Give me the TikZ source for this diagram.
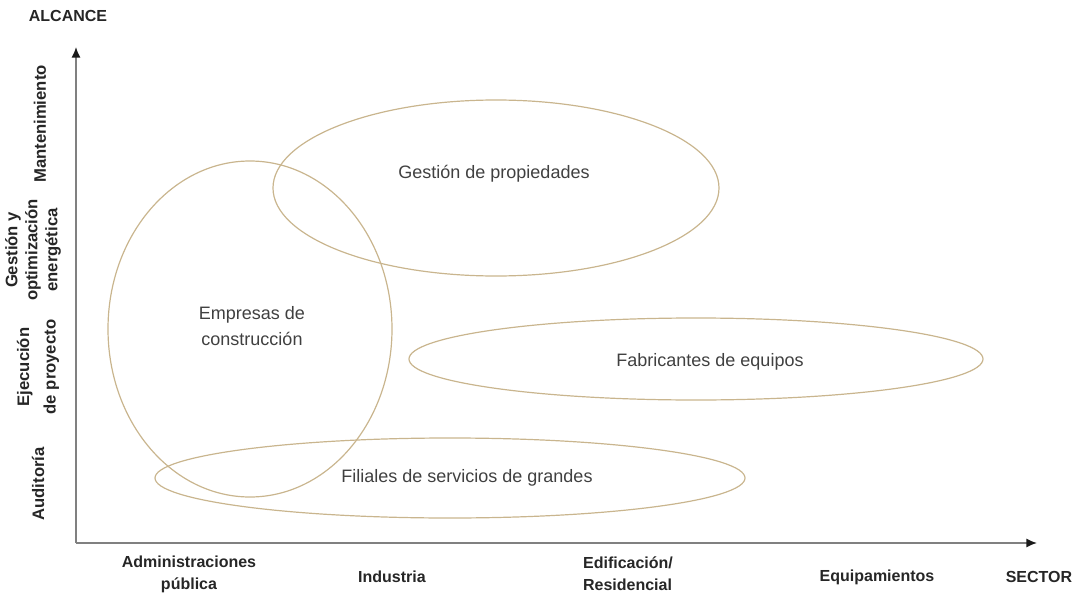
\documentclass[tikz,border=0pt]{standalone}
\usepackage{fontspec}
\setmainfont{Liberation Sans}
\usetikzlibrary{arrows.meta}
\definecolor{axisgray}{HTML}{808080}
\definecolor{tan}{HTML}{C9B58E}
\definecolor{labtext}{HTML}{262626}
\definecolor{elltext}{HTML}{404040}
\definecolor{tipcol}{HTML}{1A1A1A}
\begin{document}
\begin{tikzpicture}[x=0.75pt,y=-0.75pt,
  axis/.style={draw=axisgray,line width=1.4pt,-{Latex[length=8pt,width=7pt,color=tipcol]}},
  zone/.style={draw=tan,line width=0.9pt},
  zonetext/.style={font=\fontsize{13.5}{16}\selectfont,text=elltext,align=center},
  cat/.style={font=\fontsize{12}{16.5}\selectfont\bfseries,text=labtext,align=center},
  ycat/.style={font=\fontsize{12.5}{12}\selectfont\bfseries,text=labtext,align=center,rotate=90}]
\useasboundingbox (0,0) rectangle (1079,596);
% axes
\coordinate (O) at (76,543);
\coordinate (Ytop) at (76,47);
\coordinate (Xend) at (1037,543);
\draw[axis] (O) -- (Ytop);
\draw[axis] (O) -- (Xend);
% ellipses
\draw[zone] (496,188) ellipse [x radius=223, y radius=88];
\draw[zone] (250,329) ellipse [x radius=142, y radius=168];
\draw[zone] (696,359) ellipse [x radius=287, y radius=41];
\draw[zone] (450,478) ellipse [x radius=295, y radius=40];
% ellipse texts
\node[zonetext] (gp) at (494,174) {Gestión de propiedades};
\node[zonetext] (ec) at (252,326) {Empresas de\\[3pt]construcción};
\node[zonetext] (fe) at (710,362) {Fabricantes de equipos};
\node[zonetext] (fs) at (467,478) {Filiales de servicios de grandes};
% axis titles
\node[cat] (alc) at (68,16) {ALCANCE};
\node[cat] (sec) at (1039,577) {SECTOR};
% x categories
\node[cat] (adm) at (189,574) {Administraciones\\pública};
\node[cat] (ind) at (392,577) {Industria};
\node[cat,align=left] (edi) at (628,574) {Edificación/\\Residencial};
\node[cat] (equ) at (877,577) {Equipamientos};
% y categories
\node[ycat] (man) at (40,124) {Mantenimiento};
\node[ycat,font=\fontsize{12.5}{15}\selectfont\bfseries] (gest) at (33,250) {Gestión y\\optimización\\energética};
\node[ycat,font=\fontsize{12.5}{20}\selectfont\bfseries] (eje) at (38,367) {Ejecución\\de proyecto};
\node[ycat] (aud) at (38,484) {Auditoría};
\end{tikzpicture}
\end{document}
